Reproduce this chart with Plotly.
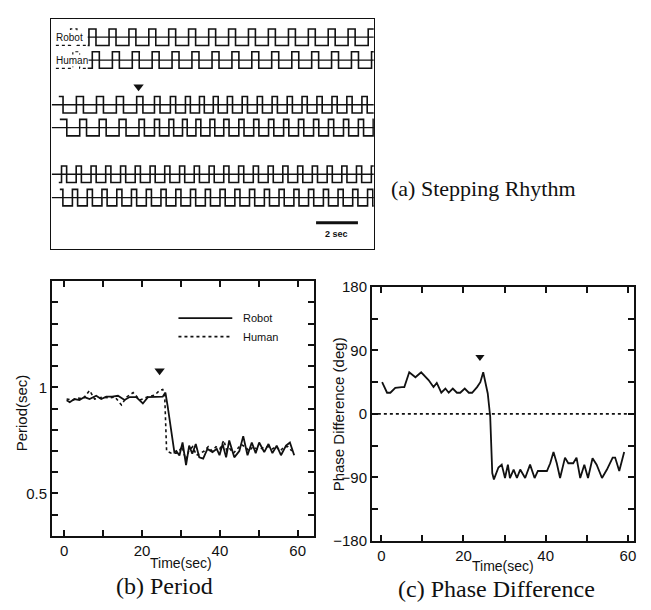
import plotly.graph_objects as go

W, H = 651, 610

# ---------------- Panel (b): Period ----------------
period_t_robot = [0.6, 1.4, 2.6, 3.9, 5.2, 6.5, 8.2, 9.5, 10.8, 12.3,
                  13.8, 15.5, 16.8, 18.5, 20.2, 21.5, 23.5, 25.3, 26.0, 26.6,
                  28.3, 28.8, 29.6, 30.4, 31.3, 32.1, 32.9, 33.8, 34.7, 35.7,
                  36.8, 38.1, 39.2, 39.9, 40.7, 41.6, 42.4, 43.7, 45.0, 46.0,
                  47.1, 48.2, 49.2, 50.1, 51.4, 52.5, 53.5, 54.6, 55.7, 57.0,
                  58.0, 59.1]
period_robot = [0.939, 0.93, 0.945, 0.94, 0.954, 0.945, 0.96, 0.945, 0.956, 0.956,
                0.96, 0.94, 0.954, 0.954, 0.924, 0.954, 0.955, 0.956, 0.975, 0.908,
                0.694, 0.70, 0.679, 0.74, 0.633, 0.725, 0.687, 0.733, 0.67, 0.664,
                0.71, 0.695, 0.71, 0.68, 0.733, 0.67, 0.75, 0.67, 0.70, 0.77,
                0.68, 0.74, 0.69, 0.74, 0.695, 0.733, 0.69, 0.725, 0.68, 0.725,
                0.74, 0.68]
period_t_human = [0.6, 2.2, 3.5, 4.8, 6.5, 7.8, 9.9, 11.5, 13.0, 14.7,
                  16.0, 17.7, 19.4, 21.3, 23.2, 24.5, 25.3, 25.8, 26.3, 27.5,
                  28.8, 29.5, 30.3, 31.2, 32.0, 33.0, 34.0, 35.0, 36.0, 37.0,
                  38.0, 39.0, 40.0, 41.0, 41.8, 42.6, 43.5, 44.5, 45.5, 46.5,
                  47.5, 48.5, 49.5, 50.5, 51.5, 52.5, 53.5, 54.5, 55.5, 56.5,
                  57.5, 58.5]
period_human = [0.945, 0.94, 0.95, 0.945, 0.985, 0.945, 0.954, 0.95, 0.955, 0.917,
                0.954, 0.975, 0.94, 0.954, 0.963, 0.985, 0.99, 0.97, 0.70, 0.69,
                0.69, 0.70, 0.72, 0.66, 0.70, 0.72, 0.68, 0.69, 0.70, 0.72,
                0.70, 0.72, 0.71, 0.75, 0.70, 0.71, 0.69, 0.71, 0.73, 0.72,
                0.70, 0.72, 0.71, 0.71, 0.72, 0.72, 0.71, 0.72, 0.70, 0.72,
                0.72, 0.70]
period_ticks = [0.3, 0.4, 0.5, 0.6, 0.7, 0.8, 0.9, 1.0, 1.1, 1.2, 1.3, 1.4, 1.5]
period_ticktext = ["", "", "0.5", "", "", "", "", "1", "", "", "", "", ""]
trigger_b = (24.5, 1.078)

# ---------------- Panel (c): Phase difference ----------------
phase_t = [0.2, 1.4, 2.2, 3.4, 5.0, 5.6, 6.8, 8.3, 9.7, 11.5,
           12.7, 13.5, 14.6, 15.6, 16.4, 17.4, 18.4, 19.2, 20.3, 21.3,
           22.1, 23.3, 24.1, 24.8, 25.9, 26.5, 27.0, 27.4, 28.5, 29.3,
           30.1, 30.8, 31.3, 32.2, 33.0, 33.8, 35.0, 36.2, 37.3, 38.1,
           40.3, 41.1, 41.9, 42.7, 43.5, 44.7, 45.5, 46.7, 47.5, 48.4,
           49.4, 50.3, 51.4, 52.4, 53.7, 54.9, 56.3, 56.9, 57.9, 59.1]
phase_deg = [45, 30, 30, 37, 38, 38, 59, 52, 59, 48,
             38, 44, 30, 36, 30, 36, 30, 30, 36, 30,
             30, 38, 45, 59, 29, -4, -84, -93, -76, -72,
             -91, -72, -91, -79, -91, -79, -91, -72, -91, -81,
             -81, -70, -54, -70, -91, -62, -70, -70, -62, -91,
             -72, -91, -63, -72, -91, -79, -62, -62, -81, -54]
phase_ticks = [-180, -135, -90, -45, 0, 45, 90, 135, 180]
phase_ticktext = ["\u2212180", "", "\u221290", "", "0", "", "90", "", "180"]
trigger_c = (24.0, 80.6)

time_ticks = [0, 10, 20, 30, 40, 50, 60]
time_ticktext = ["0", "", "20", "", "40", "", "60"]

# ---------------- Panel (a): stepping rhythm (step onsets, sec) ----------------
row1_robot = [1.82, 2.78, 3.73, 4.68, 5.63, 6.58, 7.54, 8.49, 9.44, 10.39,
              11.35, 12.30, 13.25, 14.20, 15.16]
row1_human = [1.98, 2.94, 3.89, 4.84, 5.79, 6.74, 7.70, 8.65, 9.60, 10.55,
              11.51, 12.46, 13.41, 14.36, 15.32]
row1_robot_hidden = [0.94, 1.82]
row1_human_hidden = [1.05, 1.98]
row2_robot = [0.24, 1.22, 2.18, 3.13, 4.10, 4.95, 5.71, 6.43, 7.10, 7.76,
              8.43, 9.14, 9.86, 10.57, 11.29, 12.00, 12.71, 13.43, 14.14, 14.86]
row2_human = [0.43, 1.38, 2.31, 3.26, 4.21, 4.95, 5.64, 6.29, 6.93, 7.60,
              8.26, 8.98, 9.69, 10.40, 11.12, 11.83, 12.55, 13.26, 13.98, 14.69, 15.40]
row3_robot = [0.51, 1.21, 1.92, 2.62, 3.33, 4.03, 4.74, 5.44, 6.15, 6.85,
              7.56, 8.26, 8.97, 9.67, 10.38, 11.08, 11.79, 12.49, 13.20, 13.90,
              14.60, 15.31]
row3_human = [0.33, 1.03, 1.74, 2.44, 3.15, 3.85, 4.56, 5.26, 5.97, 6.67,
              7.38, 8.08, 8.79, 9.49, 10.20, 10.90, 11.61, 12.31, 13.02, 13.72,
              14.42, 15.13]
trigger_a = 4.19
scale_bar = (12.67, 14.67)

# layout helpers (pixel -> paper)
def PX(x):
    return x / W

def PY(y):
    return 1 - y / H

A_END = 15.43  # right edge of panel (a) in seconds
# rows: (onsets, start, baseline_start, baseline_y)
rows = [
    (row1_robot, 1.76, 1.76, 29.0),
    (row1_human, 1.76, 1.76, 52.5),
    (row2_robot, 0.38, 0.05, 98.5),
    (row2_human, 0.43, 0.05, 122.0),
    (row3_robot, 0.38, 0.05, 170.0),
    (row3_human, 0.43, 0.05, 194.0),
]


def wave(onsets, start, end, base, up=8.5, down=8.5, duty=0.35):
    hi, lo = base - up, base + down
    n = len(onsets)
    segs = []
    for i, t0 in enumerate(onsets):
        per = (onsets[i + 1] - t0) if i + 1 < n else (t0 - onsets[i - 1])
        segs.append((t0, t0 + duty * per))
    cur = hi if any(a <= start < b for a, b in segs) else lo
    xs, ys = [start], [cur]
    for a, b in segs:
        for tt, lv in ((a, hi), (b, lo)):
            if start < tt < end:
                xs += [tt, tt]
                ys += [cur, lv]
                cur = lv
    xs.append(end)
    ys.append(cur)
    return xs, ys


fig = go.Figure()
BLACK = "#111111"

# panel (a)
for onsets, start, bstart, base in rows:
    fig.add_trace(go.Scatter(x=[bstart, A_END], y=[base, base], mode="lines",
                             line=dict(color=BLACK, width=1.3),
                             xaxis="x3", yaxis="y3", showlegend=False, hoverinfo="skip"))
    xs, ys = wave(onsets, start, A_END, base)
    fig.add_trace(go.Scatter(x=xs, y=ys, mode="lines",
                             line=dict(color=BLACK, width=1.6),
                             xaxis="x3", yaxis="y3", showlegend=False, hoverinfo="skip"))
for onsets, base in ((row1_robot_hidden, 29.0), (row1_human_hidden, 52.5)):
    xs, ys = wave(onsets, 0.24, 1.76, base)
    fig.add_trace(go.Scatter(x=xs, y=ys, mode="lines",
                             line=dict(color=BLACK, width=1.2, dash="dot"),
                             xaxis="x3", yaxis="y3", showlegend=False, hoverinfo="skip"))
fig.add_trace(go.Scatter(x=[trigger_a], y=[80], mode="markers",
                         marker=dict(symbol="triangle-down", size=9, color=BLACK),
                         xaxis="x3", yaxis="y3", showlegend=False))
fig.add_trace(go.Scatter(x=list(scale_bar), y=[220, 220], mode="lines",
                         line=dict(color=BLACK, width=3),
                         xaxis="x3", yaxis="y3", showlegend=False))

# panel (b)
fig.add_trace(go.Scatter(x=period_t_robot, y=period_robot, mode="lines", name="Robot",
                         line=dict(color=BLACK, width=1.8), xaxis="x", yaxis="y",
                         showlegend=False))
fig.add_trace(go.Scatter(x=period_t_human, y=period_human, mode="lines", name="Human",
                         line=dict(color=BLACK, width=1.6, dash="dot"), xaxis="x", yaxis="y",
                         showlegend=False))
fig.add_trace(go.Scatter(x=[trigger_b[0]], y=[trigger_b[1]], mode="markers",
                         marker=dict(symbol="triangle-down", size=9, color=BLACK),
                         xaxis="x", yaxis="y", showlegend=False))

# panel (c)
fig.add_trace(go.Scatter(x=phase_t, y=phase_deg, mode="lines",
                         line=dict(color=BLACK, width=1.8), xaxis="x2", yaxis="y2",
                         showlegend=False))
fig.add_trace(go.Scatter(x=[trigger_c[0]], y=[trigger_c[1]], mode="markers",
                         marker=dict(symbol="triangle-down", size=8, color=BLACK),
                         xaxis="x2", yaxis="y2", showlegend=False))

TICKFONT = dict(family="Liberation Sans, Arial, sans-serif", size=15, color=BLACK)
common = dict(showline=True, linecolor=BLACK, linewidth=1.6, mirror="ticks",
              ticks="inside", ticklen=6, tickwidth=1.6, tickcolor=BLACK,
              showgrid=False, zeroline=False, tickfont=TICKFONT, fixedrange=True)

fig.update_layout(
    width=W, height=H, margin=dict(l=0, r=0, t=0, b=0),
    paper_bgcolor="white", plot_bgcolor="white", showlegend=False,
    xaxis=dict(domain=[PX(52), PX(315)], anchor="y", range=[-3.2, 64.2],
               tickmode="array", tickvals=time_ticks, ticktext=time_ticktext, **common),
    yaxis=dict(domain=[PY(542), PY(280)], anchor="x", range=[0.3, 1.5],
               tickmode="array", tickvals=period_ticks, ticktext=period_ticktext, **common),
    xaxis2=dict(domain=[PX(373), PX(636)], anchor="y2", range=[-2.3, 61.5],
                tickmode="array", tickvals=time_ticks, ticktext=time_ticktext, **common),
    yaxis2=dict(domain=[PY(547), PY(286)], anchor="x2", range=[-180, 180],
                tickmode="array", tickvals=phase_ticks, ticktext=phase_ticktext, **common),
    xaxis3=dict(domain=[PX(51), PX(375)], anchor="y3", range=[0, A_END],
                showline=True, linecolor=BLACK, linewidth=1.3, mirror=True,
                showticklabels=False, ticks="", showgrid=False, zeroline=False, fixedrange=True),
    yaxis3=dict(domain=[PY(247), PY(10)], anchor="x3", range=[247, 10],
                showline=True, linecolor=BLACK, linewidth=1.3, mirror=True,
                showticklabels=False, ticks="", showgrid=False, zeroline=False, fixedrange=True),
)

# zero line in (c)
fig.add_shape(type="line", xref="x2 domain", x0=0, x1=1, yref="y2", y0=0, y1=0,
              line=dict(color=BLACK, width=1.6, dash="dot"))

# legend (b)
fig.add_shape(type="line", xref="paper", yref="paper", x0=PX(179), x1=PX(233),
              y0=PY(318), y1=PY(318), line=dict(color=BLACK, width=1.8))
fig.add_shape(type="line", xref="paper", yref="paper", x0=PX(179), x1=PX(233),
              y0=PY(337), y1=PY(337), line=dict(color=BLACK, width=1.6, dash="dot"))

SANS = "Liberation Sans, Arial, sans-serif"
SERIF = "Liberation Serif, Times New Roman, serif"


def ann(text, x, y, size, family=SANS, angle=0, xanchor="center", **kw):
    fig.add_annotation(text=text, x=PX(x), y=PY(y), xref="paper", yref="paper",
                       showarrow=False, textangle=angle, xanchor=xanchor, yanchor="middle",
                       font=dict(family=family, size=size, color=BLACK), **kw)


ann("Robot", 242, 318, 11, xanchor="left")
ann("Human", 242, 337, 11, xanchor="left")
ann("Robot", 70, 29, 10, bgcolor="white", borderpad=0)
ann("Human", 72, 52.5, 10, bgcolor="white", borderpad=0)
ann("<b>2 sec</b>", 338, 231, 9)
ann("Period(sec)", 21, 415, 15, angle=-90)
ann("Time(sec)", 182, 570, 14)
ann("Phase Difference (deg)", 339, 417, 15, angle=-90)
ann("Time(sec)", 505, 573, 14)
ann("(a) Stepping Rhythm", 485, 185, 22, family=SERIF)
ann("(b) Period", 165, 594, 24, family=SERIF)
ann("(c) Phase Difference", 498, 597, 24, family=SERIF)

fig.write_html("out.html")
